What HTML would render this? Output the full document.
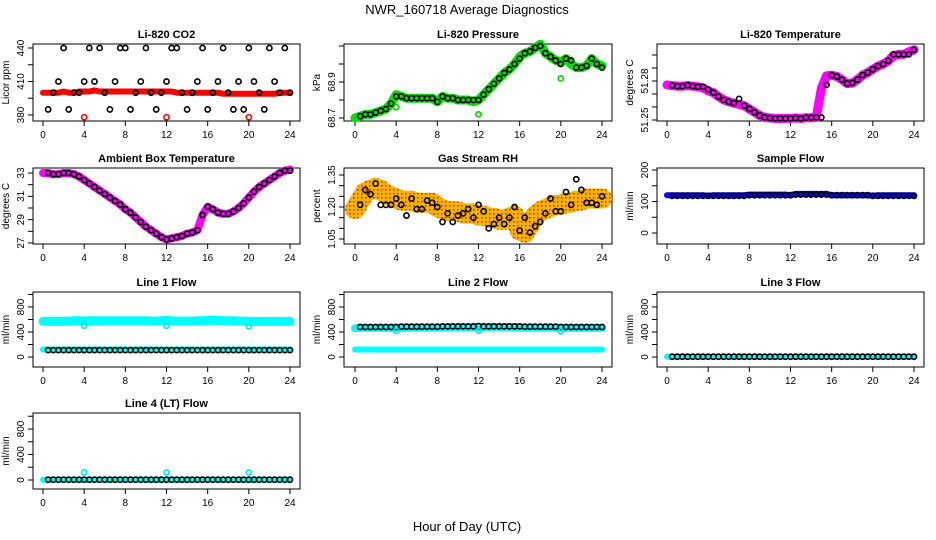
<!DOCTYPE html>
<html><head><meta charset="utf-8"><style>
html,body{margin:0;padding:0;background:#fff;}
svg{display:block;font-family:"Liberation Sans",sans-serif;}
</style></head><body>
<svg id="chart" width="936" height="540" viewBox="0 0 936 540" xmlns="http://www.w3.org/2000/svg">
<defs>
<pattern id="rhpat" width="4" height="4" patternUnits="userSpaceOnUse">
<rect width="4" height="4" fill="#f5b400"/><rect x="1" y="1" width="1.5" height="1.5" fill="#e01010"/>
</pattern>
</defs>
<text x="467" y="14" text-anchor="middle" font-size="13">NWR_160718  Average Diagnostics</text>
<text x="467" y="531" text-anchor="middle" font-size="13">Hour of Day (UTC)</text>
</svg>
<script>
// ---- data ----
const bandHours = [0,0.5,1,1.5,2,2.5,3,3.5,4,4.5,5,5.5,6,6.5,7,7.5,8,8.5,9,9.5,10,10.5,11,11.5,12,12.5,13,13.5,14,14.5,15,15.5,16,16.5,17,17.5,18,18.5,19,19.5,20,20.5,21,21.5,22,22.5,23,23.5,24];
const ptHours = [0.5,1,1.5,2,2.5,3,3.5,4,4.5,5,5.5,6,6.5,7,7.5,8,8.5,9,9.5,10,10.5,11,11.5,12,12.5,13,13.5,14,14.5,15,15.5,16,16.5,17,17.5,18,18.5,19,19.5,20,20.5,21,21.5,22,22.5,23,23.5,24];
const outlierHours = [4,12,20];

const co2Band = [400,400,400,400,401,400,400,401,401,401,402,401,401,401,401,401,401,401,401,401,401,401,401,401,401,401,400,400,400,400,400,400,400,400,400,399,399,399,399,399,399,399,399,399,399,399,400,400,400];
const co2Pts = [385,400,410,440,385,400,400,410,440,410,440,400,385,410,440,440,385,400,410,440,400,385,400,410,440,440,400,385,400,410,440,385,400,410,440,400,385,410,385,440,410,400,385,440,410,400,440,400];
const co2Out = [378,378,378];

const presBand = [68.70,68.71,68.72,68.72,68.73,68.74,68.75,68.78,68.83,68.82,68.81,68.81,68.81,68.81,68.81,68.81,68.79,68.82,68.81,68.81,68.80,68.80,68.80,68.79,68.80,68.83,68.86,68.89,68.92,68.95,68.97,69.00,69.04,69.06,69.07,69.09,69.11,69.06,69.04,69.02,69.01,69.03,69.00,68.98,68.98,68.99,69.03,69.00,68.99];
const presPts = [68.71,68.72,68.72,68.73,68.74,68.75,68.78,68.82,68.82,68.81,68.81,68.81,68.81,68.81,68.81,68.79,68.82,68.81,68.81,68.80,68.80,68.80,68.80,68.80,68.83,68.86,68.89,68.92,68.95,68.97,69.00,69.03,69.06,69.07,69.09,69.10,69.06,69.04,69.02,69.00,69.03,69.02,68.98,68.98,68.99,69.03,69.00,68.98];
const presOut = [68.76,68.72,68.92];

const tempBand = [51.277,51.2765,51.276,51.276,51.2765,51.276,51.2755,51.2748,51.2725,51.271,51.268,51.2655,51.264,51.263,51.262,51.261,51.2585,51.256,51.2535,51.252,51.2515,51.2512,51.2512,51.2512,51.2512,51.2515,51.2512,51.2518,51.2518,51.252,51.2745,51.284,51.2845,51.2835,51.281,51.278,51.2785,51.281,51.2845,51.2865,51.289,51.2915,51.293,51.2955,51.2995,51.3005,51.3005,51.3025,51.304];
const tempPts = [51.2765,51.276,51.276,51.2768,51.276,51.2755,51.2755,51.2735,51.271,51.268,51.2655,51.264,51.263,51.2662,51.261,51.2585,51.256,51.2535,51.252,51.2515,51.2512,51.2512,51.2512,51.2512,51.2515,51.2512,51.2518,51.2518,51.252,51.252,51.277,51.2845,51.2835,51.281,51.278,51.2785,51.281,51.2845,51.2865,51.289,51.2915,51.293,51.2955,51.3005,51.3005,51.3005,51.3005,51.304];

const ambBand = [33.0,33.0,32.9,32.9,33.0,33.0,32.9,32.7,32.4,32.1,31.8,31.5,31.2,30.9,30.6,30.3,29.9,29.6,29.2,28.8,28.4,28.1,27.8,27.5,27.3,27.4,27.5,27.6,27.8,27.9,28.1,29.4,30.1,29.9,29.6,29.5,29.5,29.7,30.0,30.4,30.9,31.4,31.8,32.1,32.4,32.7,33.0,33.2,33.3];
const ambPts = [33.0,32.9,32.9,33.0,33.0,32.9,32.7,32.4,32.1,31.8,31.5,31.2,30.9,30.6,30.3,29.9,29.6,29.2,28.8,28.4,28.1,27.8,27.5,27.3,27.4,27.5,27.6,27.8,27.9,28.1,29.4,30.1,29.9,29.6,29.5,29.5,29.7,30.0,30.4,30.9,31.4,31.8,32.1,32.4,32.7,33.0,33.2,33.2];

const rhBand = [1.19,1.23,1.27,1.28,1.29,1.28,1.26,1.25,1.24,1.23,1.23,1.23,1.22,1.22,1.22,1.22,1.20,1.19,1.18,1.18,1.18,1.17,1.17,1.17,1.16,1.16,1.15,1.15,1.14,1.14,1.15,1.16,1.09,1.08,1.12,1.16,1.18,1.19,1.20,1.21,1.21,1.22,1.22,1.23,1.23,1.24,1.24,1.24,1.24];
const rhPts = [1.21,1.28,1.26,1.31,1.21,1.21,1.21,1.24,1.21,1.16,1.24,1.19,1.19,1.23,1.22,1.20,1.13,1.17,1.13,1.16,1.17,1.19,1.15,1.21,1.18,1.10,1.12,1.15,1.12,1.15,1.20,1.09,1.15,1.08,1.11,1.13,1.17,1.24,1.18,1.18,1.27,1.21,1.33,1.28,1.22,1.22,1.21,1.25];

const sampBand = [120,120,120,120,120,120,120,120,118,120,120,120,120,120,120,120,122,122,122,122,122,122,122,122,120,124,124,124,124,124,124,124,120,120,120,120,120,120,120,120,118,120,120,120,120,120,120,120,120];
const sampPts = [118,118,118,118,118,118,118,118,118,118,118,118,118,118,118,120,120,120,120,120,120,120,120,120,122,122,122,122,122,122,122,120,120,120,120,120,120,120,120,118,118,118,118,118,118,118,118,118];

const l1CyanHigh = [570,570,570,570,575,575,580,580,575,580,580,580,580,580,580,580,580,580,580,580,580,575,575,580,585,580,575,575,575,575,580,580,585,585,585,580,580,580,575,575,570,570,570,570,570,570,570,570,570];
const l1CyanLow = [120,120,120,120,120,120,120,120,120,120,120,120,120,120,120,120,120,120,120,120,120,120,120,120,120,120,120,120,120,120,120,120,120,120,120,120,120,120,120,120,120,120,120,120,120,120,120,120,120];
const l1Black = [110,110,110,110,110,110,110,110,110,110,110,110,110,110,110,110,110,110,110,110,110,110,110,110,110,110,110,110,110,110,110,110,110,110,110,110,110,110,110,110,110,110,110,110,110,110,110,110];
const l1Out = [500,500,490];

const l2CyanHigh = [460,465,465,465,465,465,465,470,465,470,470,470,470,470,470,470,470,470,475,475,475,475,475,475,480,480,480,480,480,480,480,480,470,470,470,470,470,470,470,470,465,465,465,465,465,465,465,465,465];
const l2CyanLow = [120,120,120,120,120,120,120,120,120,120,120,120,120,120,120,120,120,120,120,120,120,120,120,120,120,120,120,120,120,120,120,120,120,120,120,120,120,120,120,120,120,120,120,120,120,120,120,120,120];
const l2Black = [480,480,480,480,480,480,480,480,485,485,485,485,485,485,485,485,490,490,490,490,490,490,490,495,490,490,490,490,490,490,490,490,485,485,485,485,485,485,485,480,480,480,480,480,480,480,480,480];
const l2Out = [420,420,410];

const l3Cyan = [5,5,5,5,5,5,5,5,5,5,5,5,5,5,5,5,5,5,5,5,5,5,5,5,5,5,5,5,5,5,5,5,5,5,5,5,5,5,5,5,5,5,5,5,5,5,5,5,5];
const l3Black = [5,5,5,5,5,5,5,5,5,5,5,5,5,5,5,5,5,5,5,5,5,5,5,5,5,5,5,5,5,5,5,5,5,5,5,5,5,5,5,5,5,5,5,5,5,5,5,5];

const l4Cyan = [5,5,5,5,5,5,5,5,5,5,5,5,5,5,5,5,5,5,5,5,5,5,5,5,5,5,5,5,5,5,5,5,5,5,5,5,5,5,5,5,5,5,5,5,5,5,5,5,5];
const l4Black = [5,5,5,5,5,5,5,5,5,5,5,5,5,5,5,5,5,5,5,5,5,5,5,5,5,5,5,5,5,5,5,5,5,5,5,5,5,5,5,5,5,5,5,5,5,5,5,5];
const l4Out = [120,120,120];

const xTicks = [0,4,8,12,16,20,24];

// ---- drawing ----
const svg = document.getElementById('chart');
const NS = 'http://www.w3.org/2000/svg';
function mk(tag, attrs, parent){
  const e = document.createElementNS(NS, tag);
  for (const k in attrs) e.setAttribute(k, attrs[k]);
  (parent||svg).appendChild(e);
  return e;
}
const cols = [{bx0:33,bx1:300,x0:43,x1:290},{bx0:344,bx1:612,x0:355,x1:602},{bx0:657,bx1:924,x0:667,x1:914}];
const rows = [{by0:44,by1:121},{by0:168,by1:244},{by0:292,by1:367},{by0:413,by1:489}];

function panel(name, c, r, title, ylab, v0, p0, v1, p1, yTicks, yLabels){
  const C = cols[c], R = rows[r];
  const g = mk('g', {});
  
  
  const xs = h => C.x0 + (h/24)*(C.x1 - C.x0);
  const ys = v => p0 + (v - v0)/(v1 - v0)*(p1 - p0);
  const t = mk('text', {x:(C.bx0+C.bx1)/2, y:R.by0-6, 'text-anchor':'middle','font-size':11,'font-weight':'bold'}, g);
  t.textContent = title;
  
  
  const box = mk('rect', {x:C.bx0, y:R.by0, width:C.bx1-C.bx0, height:R.by1-R.by0, fill:'none', stroke:'#000','stroke-width':1}, g);
  
  
  const xa = mk('g', {}, g);
  
  
  xTicks.forEach(h => {
    mk('line', {x1:xs(h), x2:xs(h), y1:R.by1, y2:R.by1+5, stroke:'#000'}, xa);
    const tl = mk('text', {x:xs(h), y:R.by1+17, 'text-anchor':'middle','font-size':10}, xa);
    tl.textContent = h;
  });
  const ya = mk('g', {}, g);
  
  
  const yt0 = ys(yTicks[0]), yt1 = ys(yTicks[yTicks.length-1]);
  mk('line', {x1:C.bx0, x2:C.bx0, y1:Math.min(yt0,yt1), y2:Math.max(yt0,yt1), stroke:'#000'}, ya);
  yTicks.forEach(v => mk('line', {x1:C.bx0-5, x2:C.bx0, y1:ys(v), y2:ys(v), stroke:'#000'}, ya));
  yLabels.forEach(v => {
    const yy = ys(v), xx = C.bx0-9;
    const tl = mk('text', {x:xx, y:yy, 'text-anchor':'middle','font-size':10, transform:`rotate(-90 ${xx} ${yy})`}, ya);
    tl.textContent = v;
  });
  const yl = mk('text', {x:C.bx0-24, y:(R.by0+R.by1)/2, 'text-anchor':'middle','font-size':10, transform:`rotate(-90 ${C.bx0-24} ${(R.by0+R.by1)/2})`}, g);
  yl.textContent = ylab;
  
  
  const plot = mk('g', {}, g);
  
  
  return {
    band(hours, vals, color, width, nm){
      const d = hours.map((h,i) => (i?'L':'M') + xs(h).toFixed(1) + ' ' + ys(vals[i]).toFixed(1)).join(' ');
      const p = mk('path', {d, fill:'none', stroke:color, 'stroke-width':width, 'stroke-linejoin':'round','stroke-linecap':'round'}, plot);
      
      
    },
    pts(hours, vals, color, nm, rr, sw){
      const pg = mk('g', {}, plot);
      
      
      hours.forEach((h,i) => mk('circle', {cx:xs(h), cy:ys(vals[i]), r:rr||2.6, fill:'none', stroke:color, 'stroke-width':sw||1.6}, pg));
    }
  };
}

let p;
p = panel('co2', 0, 0, 'Li-820 CO2', 'Licor ppm', 380, 115, 440, 48, [380,395,410,425,440], [380,410,440]);
p.band(bandHours, co2Band, '#ff0000', 6, 'co2-red-series');
p.pts(ptHours, co2Pts, '#000', 'co2-black-points');
p.pts(outlierHours, co2Out, '#ff0000', 'co2-red-outliers');

p = panel('pressure', 1, 0, 'Li-820 Pressure', 'kPa', 68.7, 118, 68.9, 82, [68.7,68.8,68.9,69.0,69.1], ['68.7','68.9']);
p.band(bandHours, presBand, '#00e000', 9, 'pressure-green-series');
p.pts(ptHours, presPts, '#000', 'pressure-black-points');
p.pts(outlierHours, presOut, '#00d000', 'pressure-green-outliers');

p = panel('li820-temp', 2, 0, 'Li-820 Temperature', 'degrees C', 51.25, 120, 51.28, 81, [51.25,51.26,51.27,51.28,51.29,51.30], ['51.25','51.28']);
p.band(bandHours, tempBand, '#ff00ff', 9, 'li820-temp-magenta-series');
p.pts(ptHours, tempPts, '#000', 'li820-temp-black-points');

p = panel('ambient', 0, 1, 'Ambient Box Temperature', 'degrees C', 27, 243, 33, 173, [27,28,29,30,31,32,33], [27,29,31,33]);
p.band(bandHours, ambBand, '#ff00ff', 8, 'ambient-magenta-series');
p.pts(ptHours, ambPts, '#000', 'ambient-black-points');

p = panel('rh', 1, 1, 'Gas Stream RH', 'percent', 1.05, 239, 1.35, 175, [1.05,1.10,1.15,1.20,1.25,1.30,1.35], ['1.05','1.20','1.35']);
p.band(bandHours, rhBand, 'url(#rhpat)', 20, 'rh-orange-series');
p.pts(ptHours, rhPts, '#000', 'rh-black-points');

p = panel('sample-flow', 2, 1, 'Sample Flow', 'ml/min', 0, 233, 200, 170, [0,50,100,150,200], [0,100,200]);
p.band(bandHours, sampBand, '#0000ff', 6, 'sample-flow-blue-series');
p.pts(ptHours, sampPts, '#000', 'sample-flow-black-points');

p = panel('line1-flow', 0, 2, 'Line 1 Flow', 'ml/min', 0, 357, 800, 307, [0,200,400,600,800,1000], [0,400,800]);
p.band(bandHours, l1CyanHigh, '#00ffff', 9, 'line1-cyan-high-series');
p.band(bandHours, l1CyanLow, '#00ffff', 6, 'line1-cyan-low-series');
p.pts(ptHours, l1Black, '#000', 'line1-black-points');
p.pts(outlierHours, l1Out, '#00e8e8', 'line1-cyan-outliers');

p = panel('line2-flow', 1, 2, 'Line 2 Flow', 'ml/min', 0, 357, 800, 307, [0,200,400,600,800,1000], [0,400,800]);
p.band(bandHours, l2CyanHigh, '#00ffff', 8, 'line2-cyan-high-series');
p.band(bandHours, l2CyanLow, '#00ffff', 6, 'line2-cyan-low-series');
p.pts(ptHours, l2Black, '#000', 'line2-black-points');
p.pts(outlierHours, l2Out, '#00e8e8', 'line2-cyan-outliers');

p = panel('line3-flow', 2, 2, 'Line 3 Flow', 'ml/min', 0, 357, 800, 307, [0,200,400,600,800,1000], [0,400,800]);
p.band(bandHours, l3Cyan, '#00ffff', 6, 'line3-cyan-series');
p.pts(ptHours, l3Black, '#000', 'line3-black-points');

p = panel('line4-flow', 0, 3, 'Line 4 (LT) Flow', 'ml/min', 0, 480, 800, 429, [0,200,400,600,800,1000], [0,400,800]);
p.band(bandHours, l4Cyan, '#00ffff', 6, 'line4-cyan-series');
p.pts(ptHours, l4Black, '#000', 'line4-black-points');
p.pts(outlierHours, l4Out, '#00e8e8', 'line4-cyan-outliers');
</script>
</body></html>
